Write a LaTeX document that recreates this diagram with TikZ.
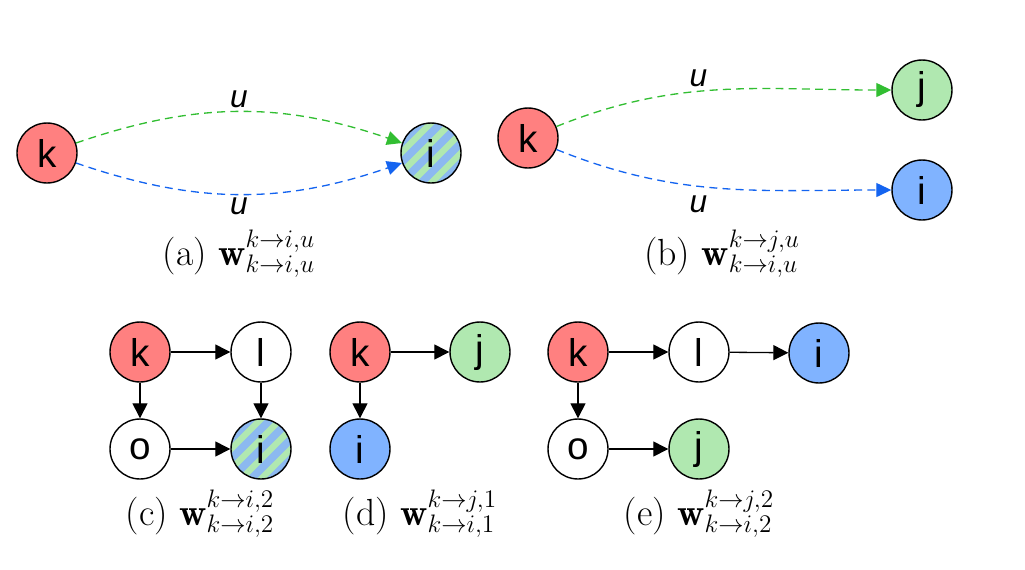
\documentclass[tikz,border=0pt]{standalone}
\usepackage{fontspec}
\newfontfamily\hv{Liberation Sans}
\usetikzlibrary{arrows.meta,calc}
\definecolor{nred}{RGB}{255,128,128}
\definecolor{ngreen}{RGB}{176,232,176}
\definecolor{nblue}{RGB}{128,179,255}
\definecolor{agreen}{RGB}{50,190,50}
\definecolor{ablue}{RGB}{20,100,240}
\definecolor{sblue}{RGB}{140,185,240}
\begin{document}
\begin{tikzpicture}[x=0.02cm,y=-0.02cm,
  vtx/.style={circle, draw, line width=0.8pt, minimum size=1.2cm, inner sep=0pt,
    font=\hv\fontsize{22}{22}\selectfont},
  kv/.style={vtx, fill=nred},
  gv/.style={vtx, fill=ngreen},
  bv/.style={vtx, fill=nblue},
  wv/.style={vtx, fill=white},
  sv/.style={vtx, fill=ngreen, path picture={
      \foreach \d in {-100,-80,...,100}
        \draw[sblue, line width=0.15cm]
          ($(path picture bounding box.center)+(\d,0)+(-45,45)$) -- ++(90,-90);}},
  arr/.style={-{Triangle[length=0.3cm,width=0.3cm]}, line width=0.75pt},
  darr/.style={dash pattern=on 4.5pt off 3pt, line width=0.75pt,
    -{Triangle[length=0.3cm,width=0.28cm]}},
  lab/.style={font=\hv\itshape\fontsize{18}{18}\selectfont, inner sep=2pt},
  capt/.style={font=\fontsize{21.5}{24}\selectfont, anchor=base}
]
\useasboundingbox (0,0) rectangle (1025,569);

% (a)
\node[kv] (ak) at (47,153) {k};
\node[sv] (ai) at (431,153) {i};
\draw[darr, agreen] (ak) to[bend left=19] node[pos=0.5, above, lab, text=black] {u} (ai);
\draw[darr, ablue] (ak) to[bend right=19] node[pos=0.5, below, lab, text=black] {u} (ai);
\node[capt] (capa) at (239,265) {(a)\ $\mathbf{w}^{k\rightarrow i,u}_{k\rightarrow i,u}$};

% (b)
\node[kv] (bk) at (528,138) {k};
\node[gv] (bj) at (922,90) {j};
\node[bv] (bi) at (922,190) {i};
\draw[darr, agreen] (bk) to[out=22, in=180] node[pos=0.43, above, lab, text=black] {u} (bj);
\draw[darr, ablue] (bk) to[out=-22, in=180] node[pos=0.43, below=3pt, lab, text=black] {u} (bi);
\node[capt] (capb) at (722,265) {(b)\ $\mathbf{w}^{k\rightarrow j,u}_{k\rightarrow i,u}$};

% (c)
\node[kv] (ck) at (140,352) {k};
\node[wv] (cl) at (261,352) {l};
\node[wv] (co) at (140,449) {o};
\node[sv] (ci) at (261,449) {i};
\draw[arr] (ck) -- (cl);
\draw[arr] (ck) -- (co);
\draw[arr] (cl) -- (ci);
\draw[arr] (co) -- (ci);
\node[capt] (capc) at (200,525) {(c)\ $\mathbf{w}^{k\rightarrow i,2}_{k\rightarrow i,2}$};

% (d)
\node[kv] (dk) at (360,352) {k};
\node[gv] (dj) at (480,352) {j};
\node[bv] (di) at (360,449) {i};
\draw[arr] (dk) -- (dj);
\draw[arr] (dk) -- (di);
\node[capt] (capd) at (420,525) {(d)\ $\mathbf{w}^{k\rightarrow j,1}_{k\rightarrow i,1}$};

% (e)
\node[kv] (ek) at (578,352) {k};
\node[wv] (el) at (699,352) {l};
\node[bv] (ei) at (819,353) {i};
\node[wv] (eo) at (578,449) {o};
\node[gv] (ej) at (699,449) {j};
\draw[arr] (ek) -- (el);
\draw[arr] (el) -- (ei);
\draw[arr] (ek) -- (eo);
\draw[arr] (eo) -- (ej);
\node[capt] (cape) at (699,525) {(e)\ $\mathbf{w}^{k\rightarrow j,2}_{k\rightarrow i,2}$};
\end{tikzpicture}
\end{document}
